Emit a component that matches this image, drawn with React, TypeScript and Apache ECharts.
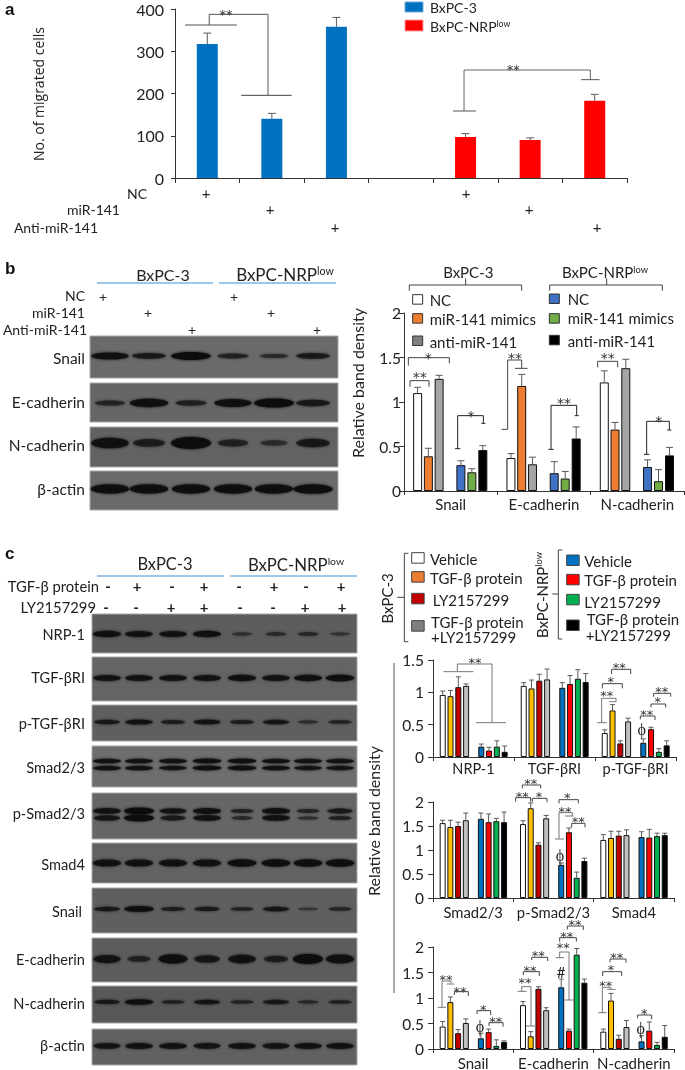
import React, { useEffect, useRef } from "react";
import * as echarts from "echarts";

// ---------- DATA ----------
const aCategories = ["1", "2", "3", "4", "5", "6", "7"];
const aTicks = [0, 100, 200, 300, 400];
const aBx = [317, 140, 358, null, null, null, null];
const aBxTop = [343, 153, 380, null, null, null, null];
const aNrp = [null, null, null, null, 97, 90, 183];
const aNrpTop = [null, null, null, null, 105, 95, 198];

const bGroups = ["Snail", "E-cadherin", "N-cadherin"];
const bNC = [1.1, 0.37, 1.22];
const bNCTop = [1.165, 0.42, 1.35];
const bMimic = [0.39, 1.18, 0.69];
const bMimicTop = [0.48, 1.31, 0.77];
const bAnti = [1.26, 0.3, 1.38];
const bAntiTop = [1.3, 0.38, 1.48];
const bNrpNC = [0.29, 0.2, 0.27];
const bNrpNCTop = [0.34, 0.33, 0.35];
const bNrpMimic = [0.21, 0.14, 0.11];
const bNrpMimicTop = [0.25, 0.22, 0.24];
const bNrpAnti = [0.46, 0.59, 0.4];
const bNrpAntiTop = [0.51, 0.72, 0.49];

const c1Groups = ["NRP-1", "TGF-βRI", "p-TGF-βRI"];
const c1Vals = [
  [0.96, 1.1, 0.37], [0.94, 1.06, 0.72], [1.08, 1.18, 0.21], [1.1, 1.2, 0.55],
  [0.16, 1.07, 0.22], [0.1, 1.13, 0.43], [0.16, 1.21, 0.08], [0.08, 1.16, 0.18],
];
const c1Tops = [
  [1.02, 1.15, 0.42], [1.03, 1.19, 0.81], [1.24, 1.28, 0.25], [1.13, 1.36, 0.6],
  [0.2, 1.15, 0.28], [0.15, 1.26, 0.46], [0.25, 1.35, 0.13], [0.17, 1.29, 0.25],
];
const c2Groups = ["Smad2/3", "p-Smad2/3", "Smad4"];
const c2Vals = [
  [1.56, 1.54, 1.21], [1.48, 1.87, 1.25], [1.5, 1.11, 1.3], [1.62, 1.66, 1.31],
  [1.65, 0.69, 1.27], [1.58, 1.37, 1.26], [1.6, 0.42, 1.29], [1.58, 0.77, 1.31],
];
const c2Tops = [
  [1.62, 1.61, 1.32], [1.62, 1.98, 1.39], [1.58, 1.15, 1.39], [1.77, 1.72, 1.42],
  [1.77, 0.73, 1.38], [1.75, 1.46, 1.43], [1.66, 0.54, 1.35], [1.79, 0.83, 1.35],
];
const c3Groups = ["Snail", "E-cadherin", "N-cadherin"];
const c3Vals = [
  [0.44, 0.86, 0.34], [0.92, 0.25, 0.95], [0.31, 1.18, 0.2], [0.51, 0.76, 0.43],
  [0.21, 1.21, 0.15], [0.33, 0.36, 0.36], [0.06, 1.85, 0.08], [0.14, 1.3, 0.24],
];
const c3Tops = [
  [0.54, 0.93, 0.39], [1.02, 0.34, 1.09], [0.38, 1.22, 0.27], [0.59, 0.81, 0.56],
  [0.31, 1.37, 0.26], [0.39, 0.39, 0.53], [0.18, 1.97, 0.13], [0.16, 1.37, 0.46],
];

// blot band strengths, one value per lane
const bBlotNames = ["Snail", "E-cadherin", "N-cadherin", "β-actin"];
const bBlotStrength = [
  [[0.85, 0.6, 1, 0.45, 0.3, 0.6]],
  [[0.4, 0.9, 0.45, 0.85, 1, 0.6]],
  [[0.85, 0.5, 1, 0.4, 0.2, 0.6]],
  [[0.9, 0.9, 0.9, 0.9, 0.9, 0.95]],
];
const cBlotNames = ["NRP-1", "TGF-βRI", "p-TGF-βRI", "Smad2/3", "p-Smad2/3", "Smad4", "Snail", "E-cadherin", "N-cadherin", "β-actin"];
const cBlotStrength = [
  [[0.85, 0.8, 0.8, 0.85, 0.2, 0.25, 0.3, 0.15]],
  [[0.8, 0.8, 0.8, 0.8, 0.85, 0.8, 0.85, 0.9]],
  [[0.65, 0.8, 0.55, 0.75, 0.55, 0.7, 0.25, 0.45]],
  [[0.85, 0.85, 0.85, 0.9, 0.9, 0.85, 0.85, 0.85], [0.85, 0.85, 0.8, 0.9, 0.9, 0.85, 0.8, 0.8]],
  [[0.8, 1, 0.75, 0.85, 0.45, 0.85, 0.4, 0.6], [0.7, 1, 0.6, 0.8, 0.3, 0.8, 0.25, 0.45]],
  [[0.85, 0.85, 0.85, 0.85, 0.9, 0.9, 0.9, 0.9]],
  [[0.65, 0.95, 0.5, 0.6, 0.45, 0.7, 0.15, 0.4]],
  [[0.75, 0.4, 0.9, 0.65, 0.8, 0.5, 1, 0.85]],
  [[0.6, 0.9, 0.45, 0.7, 0.4, 0.65, 0.3, 0.45]],
  [[0.75, 0.8, 0.8, 0.75, 0.8, 0.75, 0.8, 0.8]],
];

// ---------- STYLE / LAYOUT ----------
const FONT = "Lato";
const INK = "#222";
const WHISK = "#5a5a5a";
const bColors = ["#ffffff", "#ED7D31", "#A5A5A5", "#3F72C4", "#70AD47", "#000000"];
const cColors = ["#ffffff", "#FFC000", "#C00000", "#BFBFBF", "#0070C0", "#FF0000", "#00B050", "#000000"];
const bSlots = [1.24, 2.22, 3.2, 5.18, 6.18, 7.18];
const cSlots = [1.25, 2.25, 3.25, 4.25, 6.2, 7.2, 8.2, 9.2];
const bSection = 8.5;
const cSection = 10.4;

type P = [number, number];
const G: any[] = [];
const text = (x: number, y: number, t: string, fontSize = 15, align = "left", extra: any = {}, el: any = {}) =>
  G.push({
    type: "text", x, y, silent: true, z: 20, ...el,
    style: { text: t, fontFamily: FONT, fontSize, fill: INK, align, verticalAlign: "middle", ...extra },
  });
const sup = (x: number, y: number, fontSize: number, align = "center", el: any = {}) =>
  text(x, y, "{a|BxPC-NRP}{b|low}", fontSize, align, {
    rich: {
      a: { fontFamily: FONT, fontSize, fill: INK },
      b: { fontFamily: FONT, fontSize: fontSize * 0.62, fill: INK, verticalAlign: "top" },
    },
  }, el);
const line = (pts: P[], stroke = "#444", lineWidth = 1) =>
  G.push({
    type: "polyline", silent: true, z: 15,
    shape: { points: pts },
    style: { stroke, lineWidth, fill: "none" },
  });
const rect = (x: number, y: number, w: number, h: number, fill: string, stroke = "#444", lineWidth = 1) =>
  G.push({ type: "rect", silent: true, z: 15, shape: { x, y, width: w, height: h }, style: { fill, stroke, lineWidth } });

// annotation helper: coordinates measured in a crop
const crop = (ox: number, oy: number, fx = 3, fy = 3) => ({
  l: (pts: number[][], stroke = "#444", w = 1) =>
    line(pts.map((p) => [ox + p[0] / fx, oy + p[1] / fy] as P), stroke, w),
  s: (x: number, y: number, t: string, size = 15) =>
    text(ox + x / fx, oy + y / fy + 5, t, size, "center", { fontFamily: "DejaVu Sans", fill: "#333" }),
  g: (x: number, y: number, t: string, size = 16, family = "Liberation Serif") =>
    text(ox + x / fx, oy + y / fy, t, size, "center", { fontFamily: family }),
});

function drawBlot(
  x0: number, x1: number, lanes: number[], laneW: number,
  rows: number[][], bands: number[][], thick: number[], bgs: string[], strengths: number[][][],
) {
  rows.forEach((r, i) => {
    rect(x0, r[0], x1 - x0, r[1] - r[0], bgs[i], "#a8a8a8", 1);
    G[G.length - 1].z = 5;
    strengths[i].forEach((laneVals, k) => {
      laneVals.forEach((s, j) => {
        G.push({
          type: "ellipse", silent: true, z: 6,
          shape: { cx: lanes[j], cy: bands[i][k], rx: (laneW / 2) * (0.6 + 0.4 * s), ry: thick[i] * (0.3 + 0.7 * s) },
          style: { fill: "#101010", opacity: 0.4 + 0.6 * s, shadowBlur: 3, shadowColor: "rgba(16,16,16,0.8)" },
        });
      });
    });
  });
}

// ---------- PANEL a ----------
text(5, 9, "a", 17, "left", { fontFamily: "Liberation Sans", fontWeight: "bold", fill: "#111" });
text(38, 94, "No. of migrated cells", 14, "center", { fontFamily: "Open Sans" }, { rotation: Math.PI / 2 });
rect(405, 2, 18, 10, "#0070C0", "#6fa8dc");
rect(405, 20, 18, 11, "#FF0000", "#ff9a9a");
text(430, 7, "BxPC-3", 14, "left");
sup(430, 26, 14, "left");
{
  const c = crop(0, 0, 2.28, 3);
  c.l([[422, 75], [540, 75]], "#8a8a8a", 1.5);
  c.l([[477, 75], [477, 43], [611, 43], [611, 286]], "#555");
  c.l([[550, 286], [665, 286]], "#444");
  c.s(515, 28, "**", 13);
  c.l([[1058, 333], [1058, 210], [1346, 210], [1346, 239]], "#666");
  c.l([[1033, 333], [1085, 333]], "#555");
  c.l([[1325, 239], [1367, 239]], "#555");
  c.s(1170, 192, "**", 13);
}
text(147, 193, "NC", 14, "right");
text(120, 209, "miR-141", 14, "right");
text(98, 227, "Anti-miR-141", 14, "right");
[[206, 193], [270, 209], [335, 227], [466, 193], [529, 209], [597, 227]].forEach(([x, y]) => text(x, y, "+", 15, "center"));

// ---------- PANEL b ----------
text(5, 268, "b", 17, "left", { fontFamily: "Liberation Sans", fontWeight: "bold", fill: "#111" });
text(163, 274, "BxPC-3", 16, "center");
sup(285, 274, 17);
line([[97, 283], [213, 283]], "#3b8fd6", 1);
line([[219, 283], [336, 283]], "#3b8fd6", 1);
text(85, 295, "NC", 14, "right");
text(85, 312, "miR-141", 14, "right");
text(87, 329, "Anti-miR-141", 14, "right");
[[103, 296], [148, 312], [192, 329], [234, 296], [271, 312], [317, 329]].forEach(([x, y]) => text(x, y, "+", 14, "center"));
drawBlot(
  90, 338, [110, 149, 191, 233, 274, 313], 40,
  [[336, 378], [383, 422], [427, 467], [471, 510]],
  [[356], [403], [443], [489]], [4, 4.5, 6, 5],
  ["#6a6a6a", "#666666", "#626262", "#6a6a6a"], bBlotStrength,
);
bBlotNames.forEach((n, i) => text(85, [358, 402, 445, 489][i], n, 15.5, "right"));
{
  const c = crop(345, 250);
  c.l([[193, 122], [193, 105], [530, 105], [530, 122]]);
  c.l([[362, 105], [362, 85]]);
  c.l([[614, 122], [614, 105], [952, 105], [952, 122]]);
  c.l([[785, 105], [785, 85]]);
  c.l([[195, 410], [195, 392], [252, 392], [252, 410]]);
  c.s(224, 365, "**", 14);
  c.l([[190, 347], [190, 323], [313, 323], [313, 340]]);
  c.s(250, 310, "*", 14);
  c.l([[338, 597], [338, 497], [415, 497], [415, 520]], "#222");
  c.l([[330, 596], [346, 596]], "#222");
  c.l([[409, 520], [421, 520]], "#222");
  c.s(378, 483, "*", 14);
  c.l([[470, 538], [488, 538], [488, 330], [530, 330], [530, 355]]);
  c.l([[510, 355], [548, 355]]);
  c.s(510, 310, "**", 14);
  c.l([[618, 598], [618, 466], [695, 466], [695, 497]], "#222");
  c.l([[610, 598], [626, 598]], "#222");
  c.l([[689, 497], [701, 497]], "#222");
  c.s(657, 445, "**", 14);
  c.l([[758, 352], [758, 334], [818, 334], [818, 352]]);
  c.s(788, 310, "**", 14);
  c.l([[905, 613], [905, 514], [973, 514], [973, 540]], "#222");
  c.l([[897, 613], [913, 613]], "#222");
  c.l([[967, 540], [979, 540]], "#222");
  c.s(941, 497, "*", 14);
}
text(345 + 370 / 3, 272, "BxPC-3", 15, "center");
sup(345 + 780 / 3, 272, 15);
[[203, 134, 0, "NC", 150], [203, 191, 1, "miR-141 mimics", 208], [203, 258, 2, "anti-miR-141", 276]].forEach(([x, y, k, t, ty]: any) => {
  rect(345 + x / 3, 250 + y / 3, 10, 9.5, k === 2 ? "#7f7f7f" : bColors[k], "#333");
  text(345 + 254 / 3, 250 + ty / 3, t, 15, "left");
});
[[613, 132, 3, "NC", 148], [613, 191, 4, "miR-141 mimics", 204], [613, 256, 5, "anti-miR-141", 272]].forEach(([x, y, k, t, ty]: any) => {
  rect(345 + x / 3, 250 + y / 3, 10, 9.5, bColors[k], "#333");
  text(345 + 668 / 3, 250 + ty / 3, t, 15, "left");
});
text(357, 383, "Relative band density", 16, "center", {}, { rotation: Math.PI / 2 });

// ---------- PANEL c ----------
text(5, 553, "c", 17, "left", { fontFamily: "Liberation Sans", fontWeight: "bold", fill: "#111" });
text(165, 564, "BxPC-3", 16.5, "center");
sup(296, 564, 16.8);
line([[97, 576], [224, 576]], "#3b8fd6", 1);
line([[230, 576], [357, 576]], "#3b8fd6", 1);
text(99, 586, "TGF-β protein", 14.8, "right");
text(96, 607, "LY2157299", 14.8, "right");
["-", "+", "-", "+", "-", "+", "-", "+"].forEach((m, i) => text([108, 137, 172, 204, 239, 274, 306, 341][i], 586, m, 15, "center", { fontWeight: "bold" }));
["-", "-", "+", "+", "-", "-", "+", "+"].forEach((m, i) => text([106, 136, 171, 204, 240, 273, 305, 342][i], 607, m, 15, "center", { fontWeight: "bold" }));
const cRows = [[614, 653], [657, 701], [705, 741], [746, 787], [793, 839], [843, 883], [888, 933], [938, 982], [986, 1023], [1029, 1065]];
drawBlot(
  92, 357, [107, 139, 173, 207, 242, 276, 308, 340], 30, cRows,
  [[634], [678], [722], [761, 768], [811, 818], [863], [909], [959], [1002], [1046]],
  [3.5, 3.5, 3, 2.6, 3.4, 4, 3, 5, 3, 3.5],
  ["#5d5d5d", "#646464", "#5f5f5f", "#6e6e6e", "#666666", "#626262", "#5f5f5f", "#5c5c5c", "#585858", "#616161"],
  cBlotStrength,
);
cBlotNames.forEach((n, i) => text(n === "Snail" ? 82 : 85, [634, 677, 723, 767, 813, 864, 911, 959, 1003, 1045][i], n, 14.6, "right"));
{
  const c = crop(365, 530);
  c.l([[130, 70], [118, 70], [118, 335], [130, 335]]);
  c.l([[97, 202], [118, 202]]);
  c.l([[592, 60], [580, 60], [580, 327], [592, 327]]);
  c.l([[562, 192], [580, 192]]);
  // legend
  [[68, 0], [125, 1], [190, 2], [272, 3]].forEach(([y, k]) =>
    rect(365 + 140 / 3, 530 + y / 3, 12.5, 10.5, ["#ffffff", "#ED7D31", "#C00000", "#7f7f7f"][k], "#444"));
  [[75, 4], [133, 5], [193, 6], [270, 7]].forEach(([y, k]) =>
    rect(365 + 605 / 3, 530 + y / 3, 12.5, 10.5, cColors[k], "#444"));
  // c1 annotations
  c.l([[235, 425], [325, 425]], "#777");
  c.l([[277, 425], [277, 402], [381, 402], [381, 578]], "#777");
  c.l([[333, 578], [423, 578]], "#777");
  c.s(330, 383, "**", 13);
  c.l([[697, 578], [725, 578]], "#777");
  c.l([[710, 578], [710, 505], [753, 505], [753, 513]], "#777");
  c.l([[733, 515], [755, 515]], "#777");
  c.s(725, 482, "**", 13);
  c.l([[712, 475], [712, 461], [772, 461], [772, 475]]);
  c.s(737, 440, "*", 13);
  c.l([[740, 432], [740, 418], [797, 418], [797, 432]]);
  c.s(763, 396, "**", 13);
  c.l([[826, 568], [826, 558], [870, 558], [870, 570]]);
  c.s(845, 538, "**", 13);
  c.l([[858, 532], [858, 522], [902, 522], [902, 532]]);
  c.s(878, 500, "*", 13);
  c.l([[866, 500], [866, 490], [917, 490], [917, 500]]);
  c.s(890, 468, "**", 13);
  c.g(830, 598, "ϕ", 16);
}
text(365 + 65 / 3, 530 + 205 / 3, "BxPC-3", 15, "center", {}, { rotation: Math.PI / 2 });
sup(365 + 530 / 3, 530 + 195 / 3, 15, "center", { rotation: Math.PI / 2 });
text(365 + 195 / 3, 530 + 88 / 3, "Vehicle", 15, "left");
text(365 + 195 / 3, 530 + 145 / 3, "TGF-β protein", 15, "left");
text(365 + 203 / 3, 530 + 210 / 3, "LY2157299", 15, "left");
text(365 + 198 / 3, 530 + 275 / 3, "TGF-β protein", 15, "left");
text(365 + 198 / 3, 530 + 322 / 3, "+LY2157299", 15, "left");
text(365 + 658 / 3, 530 + 92 / 3, "Vehicle", 15, "left");
text(365 + 658 / 3, 530 + 150 / 3, "TGF-β protein", 15, "left");
text(365 + 658 / 3, 530 + 215 / 3, "LY2157299", 15, "left");
text(365 + 665 / 3, 530 + 268 / 3, "TGF-β protein", 15, "left");
text(365 + 662 / 3, 530 + 316 / 3, "+LY2157299", 15, "left");
line([[394, 663], [394, 993]], "#555");
text(373, 821, "Relative band density", 16, "center", {}, { rotation: Math.PI / 2 });
{
  const c = crop(365, 770);
  c.l([[472, 55], [472, 45], [527, 45], [527, 55]]);
  c.s(497, 25, "**", 13);
  c.l([[452, 95], [452, 83], [497, 83], [497, 95]]);
  c.s(472, 65, "**", 13);
  c.l([[502, 95], [502, 85], [546, 85], [546, 97]]);
  c.s(522, 65, "*", 13);
  c.l([[582, 100], [582, 89], [640, 89], [640, 100]]);
  c.s(607, 68, "*", 13);
  c.l([[570, 207], [597, 207]], "#777");
  c.l([[582, 207], [582, 128], [622, 128], [622, 138]], "#777");
  c.l([[600, 138], [625, 138]], "#777");
  c.s(600, 108, "**", 13);
  c.l([[620, 172], [620, 160], [660, 160], [660, 172]]);
  c.s(640, 140, "**", 13);
  c.g(585, 255, "ϕ", 16);
}
{
  const c = crop(365, 900);
  c.l([[218, 322], [243, 322]], "#777");
  c.l([[231, 322], [231, 243], [258, 243], [258, 250]], "#777");
  c.l([[245, 252], [268, 252]], "#777");
  c.s(243, 222, "**", 13);
  c.l([[268, 285], [268, 275], [310, 275], [310, 288]]);
  c.s(285, 258, "**", 13);
  c.l([[336, 342], [336, 332], [377, 332], [377, 345]]);
  c.s(355, 312, "*", 13);
  c.l([[372, 378], [372, 368], [414, 368], [414, 380]]);
  c.s(392, 350, "**", 13);
  c.g(345, 378, "ϕ", 16);
  c.l([[458, 274], [485, 274]], "#777");
  c.l([[470, 274], [470, 260], [498, 260], [498, 378]], "#777");
  c.l([[483, 378], [510, 378]], "#777");
  c.s(480, 233, "**", 13);
  c.l([[475, 225], [475, 215], [523, 215], [523, 228]]);
  c.s(495, 197, "**", 13);
  c.l([[500, 180], [500, 172], [548, 172], [548, 183]]);
  c.s(520, 152, "**", 13);
  c.l([[607, 88], [607, 78], [655, 78], [655, 90]]);
  c.s(630, 58, "**", 13);
  c.l([[584, 125], [584, 113], [634, 113], [634, 125]]);
  c.s(605, 95, "**", 13);
  c.l([[572, 173], [597, 173]], "#777");
  c.l([[584, 173], [584, 156], [612, 156], [612, 300]], "#777");
  c.l([[598, 300], [625, 300]], "#777");
  c.s(595, 128, "**", 13);
  c.g(588, 215, "#", 15, FONT);
  c.l([[700, 338], [725, 338]], "#777");
  c.l([[712, 338], [712, 262], [737, 262], [737, 268]], "#777");
  c.l([[727, 268], [752, 268]], "#777");
  c.s(722, 240, "**", 13);
  c.l([[713, 228], [713, 215], [770, 215], [770, 228]]);
  c.s(738, 193, "*", 13);
  c.l([[735, 187], [735, 177], [783, 177], [783, 188]]);
  c.s(755, 158, "**", 13);
  c.l([[818, 355], [818, 345], [860, 345], [860, 358]]);
  c.s(838, 325, "*", 13);
  c.g(827, 385, "ϕ", 16);
}

// ---------- AXES / SERIES ----------
const grids: any[] = [];
const xAxes: any[] = [];
const yAxes: any[] = [];
const series: any[] = [];
const axisLine = { show: true, lineStyle: { color: "#333", width: 1 } };
const tick = { show: true, length: 4, lineStyle: { color: "#333" } };

const whisker = (capPx: number) => (params: any, api: any) => {
  const x = api.value(0);
  const p0 = api.coord([x, api.value(1)]);
  const p1 = api.coord([x, api.value(2)]);
  const s = { stroke: WHISK, lineWidth: 1, fill: "none" };
  return {
    type: "group",
    children: [
      { type: "line", shape: { x1: p0[0], y1: p0[1], x2: p1[0], y2: p1[1] }, style: s },
      { type: "line", shape: { x1: p1[0] - capPx, y1: p1[1], x2: p1[0] + capPx, y2: p1[1] }, style: s },
    ],
  };
};

// Panel a: a plain category grid
function panelA() {
  grids.push({ left: 175, top: 9, width: 452, height: 169 });
  xAxes.push({
    type: "category", gridIndex: 0, data: aCategories,
    axisLine, axisTick: { ...tick, length: 5 }, axisLabel: { show: false },
  });
  yAxes.push({
    type: "value", gridIndex: 0, min: 0, max: 400, interval: aTicks[1] - aTicks[0],
    axisLine, axisTick: tick, splitLine: { show: false },
    axisLabel: { fontFamily: FONT, fontSize: 16, color: INK, margin: 11 },
  });
  const ax = { xAxisIndex: 0, yAxisIndex: 0 };
  series.push(
    { type: "bar", name: "BxPC-3", ...ax, data: aBx, barWidth: 21, barGap: "-100%", itemStyle: { color: "#0070C0" }, z: 3 },
    { type: "bar", name: "BxPC-NRPlow", ...ax, data: aNrp, barWidth: 21, barGap: "-100%", itemStyle: { color: "#FF0000" }, z: 3 },
    {
      type: "custom", ...ax, z: 4, renderItem: whisker(4),
      data: aCategories.map((_, i) => (aBx[i] != null ? [i, aBx[i], aBxTop[i]] : aNrp[i] != null ? [i, aNrp[i], aNrpTop[i]] : [null, null, null])),
      encode: { x: 0, y: 1 },
    },
  );
}

function panelGroup(
  rect: { left: number; top: number; width: number; height: number },
  groups: string[], max: number, interval: number, slots: number[], section: number,
  colors: string[], values: number[][], tops: number[][], barW: number, cap: number,
  labelSize: number, labelMargin: number, yMargin: number,
) {
  const gi = grids.length;
  grids.push(rect);
  xAxes.push({
    type: "category", gridIndex: gi, data: groups, axisLine, axisTick: { ...tick, length: 4 },
    axisLabel: { interval: 0, fontFamily: FONT, fontSize: labelSize, color: INK, margin: labelMargin },
  });
  const valIdx = xAxes.length;
  xAxes.push({ type: "value", gridIndex: gi, min: 0, max: section * groups.length, show: false });
  const yIdx = yAxes.length;
  yAxes.push({
    type: "value", gridIndex: gi, min: 0, max, interval,
    axisLine, axisTick: { ...tick, length: 5 }, splitLine: { show: false },
    axisLabel: { fontFamily: FONT, fontSize: 15.5, color: INK, margin: yMargin },
  });
  const ax = { xAxisIndex: valIdx, yAxisIndex: yIdx };
  slots.forEach((slot, s) => {
    series.push({
      type: "bar", ...ax, barWidth: barW, barGap: "-100%", z: 3,
      itemStyle: { color: colors[s], borderColor: "#111", borderWidth: 1 },
      data: values[s].map((v, g) => [g * section + slot, v]),
      encode: { x: 0, y: 1 },
    });
    series.push({
      type: "custom", ...ax, z: 4, renderItem: whisker(cap),
      data: values[s].map((v, g) => [g * section + slot, v, tops[s][g]]),
      encode: { x: 0, y: 1 },
    });
  });
}

panelA();
panelGroup({ left: 404, top: 313, width: 280, height: 178 }, bGroups, 2, 0.5, bSlots, bSection, bColors,
  [bNC, bMimic, bAnti, bNrpNC, bNrpMimic, bNrpAnti],
  [bNCTop, bMimicTop, bAntiTop, bNrpNCTop, bNrpMimicTop, bNrpAntiTop], 9, 3.5, 15, 5, 3);
panelGroup({ left: 433, top: 660, width: 243, height: 97 }, c1Groups, 1.5, 0.5, cSlots, cSection, cColors, c1Vals, c1Tops, 6, 2.5, 14.5, 4, 9);
panelGroup({ left: 433, top: 802, width: 241, height: 96 }, c2Groups, 2, 0.5, cSlots, cSection, cColors, c2Vals, c2Tops, 6, 2.5, 14.8, 6, 9);
panelGroup({ left: 433, top: 947, width: 241, height: 104 }, c3Groups, 2, 0.5, cSlots, cSection, cColors, c3Vals, c3Tops, 6, 2.5, 15, 6, 9);

export default function App() {
  const ref = useRef<HTMLDivElement>(null);
  useEffect(() => {
    document.body.style.margin = "0";
    const chart = echarts.init(ref.current!, undefined, { renderer: "svg" });
    chart.setOption({
      animation: false,
      backgroundColor: "#ffffff",
      grid: grids,
      xAxis: xAxes,
      yAxis: yAxes,
      series,
      graphic: { elements: G },
    });
    return () => chart.dispose();
  }, []);
  return <div ref={ref} style={{ position: "absolute", left: 0, top: 0, width: 685, height: 1070, willChange: "transform" }} />;
}
